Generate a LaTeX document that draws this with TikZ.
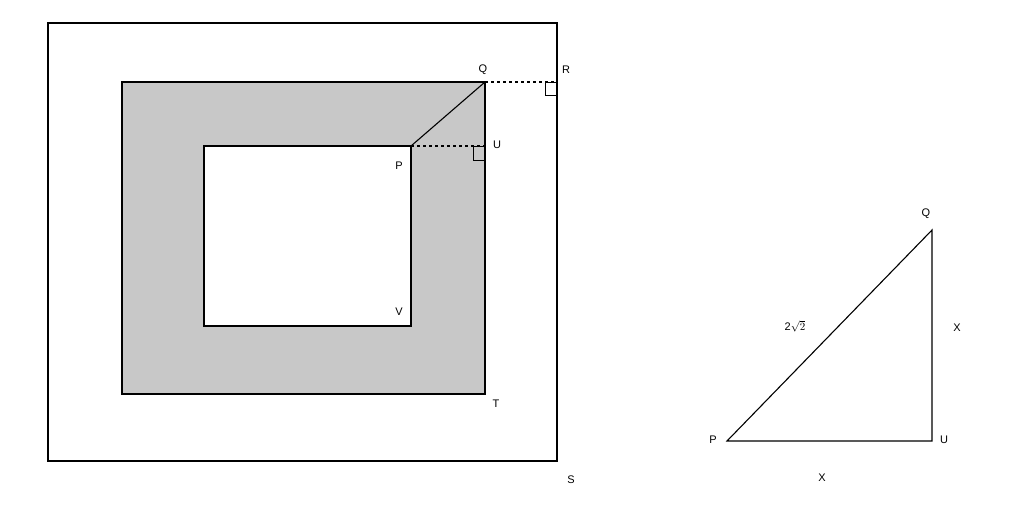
\documentclass[tikz,border=0pt]{standalone}
\usepackage{fontspec}
\setmainfont{Liberation Sans}
\begin{document}
\begin{tikzpicture}[x=1pt,y=-1pt,line width=1.1pt,
  lab/.style={font=\fontsize{11}{12}\selectfont,inner sep=0pt}]
\useasboundingbox (0,0) rectangle (1024,504);
\draw (48,23) rectangle (557,461);
\draw[fill={rgb,255:red,200;green,200;blue,200}] (122,82) rectangle (485,394);
\draw[fill=white] (204,146) rectangle (411,326);
\coordinate (Q) at (485,82); \coordinate (R) at (557,82);
\coordinate (P) at (411,146); \coordinate (U) at (485,146);
\draw (P) -- (Q);
\draw[dashed,line width=1.3pt] (Q) -- (R);
\draw[dashed,line width=1.3pt] (P) -- (U);
\draw[line width=0.9pt] (545,82) rectangle (557,95);
\draw[line width=0.9pt] (473,146) rectangle (485,160);
\node[lab] at (483,70) {Q};
\node[lab] at (566,70) {R};
\node[lab] at (497,145) {U};
\node[lab] at (399,166) {P};
\node[lab] at (399,312) {V};
\node[lab] at (496,404) {T};
\node[lab] at (571,480) {S};
\coordinate (tP) at (727,441); \coordinate (tU) at (932,441); \coordinate (tQ) at (932,230);
\draw (tP) -- (tU) -- (tQ) -- cycle;
\node[lab] at (926,214) {Q};
\node[lab] at (713,440) {P};
\node[lab] at (944,440) {U};
\node[lab] at (822,478) {X};
\node[lab] at (957,328) {X};
\node[lab] at (795,326) {2$\sqrt{2}$};
\end{tikzpicture}
\end{document}
